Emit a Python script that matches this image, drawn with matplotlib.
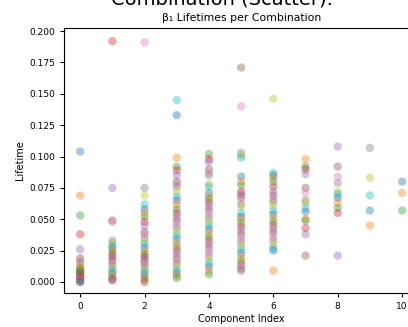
import numpy as np
import matplotlib
matplotlib.use("Agg")
import matplotlib.pyplot as plt

# lifetimes, one list per component index
comp_0 = [0.104, 0.069, 0.053, 0.038, 0.026, 0.019, 0.017, 0.015, 0.013, 0.011,
          0.010, 0.009, 0.008, 0.007, 0.006, 0.005, 0.004, 0.003, 0.002, 0.001,
          0.000, 0.012, 0.008, 0.004, 0.002, 0.000]
comp_1 = [0.192, 0.075, 0.049, 0.048, 0.033, 0.031, 0.029, 0.027, 0.025, 0.023,
          0.021, 0.019, 0.017, 0.015, 0.013, 0.011, 0.009, 0.007, 0.005, 0.003,
          0.002, 0.001]
comp_2 = [0.191, 0.075, 0.069, 0.062, 0.058, 0.055, 0.052, 0.048, 0.045, 0.040,
          0.038, 0.035, 0.032, 0.030, 0.027, 0.024, 0.022, 0.020, 0.018, 0.016,
          0.014, 0.012, 0.010, 0.008, 0.006, 0.004, 0.002, 0.000]
comp_3 = [0.145, 0.133, 0.099, 0.092, 0.089, 0.085, 0.080, 0.078, 0.076, 0.072,
          0.068, 0.065, 0.062, 0.058, 0.055, 0.052, 0.049, 0.046, 0.043, 0.040,
          0.037, 0.034, 0.031, 0.028, 0.025, 0.022, 0.019, 0.017, 0.014, 0.012,
          0.009, 0.007, 0.005, 0.003]
comp_4 = [0.102, 0.098, 0.096, 0.090, 0.087, 0.085, 0.078, 0.076, 0.071, 0.068,
          0.066, 0.063, 0.060, 0.057, 0.054, 0.051, 0.048, 0.045, 0.042, 0.039,
          0.036, 0.033, 0.030, 0.027, 0.024, 0.021, 0.018, 0.015, 0.012, 0.009,
          0.006]
comp_5 = [0.171, 0.140, 0.103, 0.101, 0.099, 0.084, 0.080, 0.077, 0.072, 0.070,
          0.068, 0.066, 0.062, 0.060, 0.055, 0.052, 0.050, 0.047, 0.044, 0.041,
          0.038, 0.035, 0.032, 0.029, 0.026, 0.023, 0.020, 0.017, 0.014, 0.011,
          0.009]
comp_6 = [0.146, 0.087, 0.085, 0.083, 0.080, 0.076, 0.072, 0.069, 0.066, 0.064,
          0.061, 0.057, 0.054, 0.051, 0.048, 0.045, 0.042, 0.039, 0.036, 0.033,
          0.030, 0.027, 0.025, 0.009]
comp_7 = [0.098, 0.092, 0.090, 0.086, 0.075, 0.071, 0.065, 0.063, 0.059, 0.056,
          0.050, 0.049, 0.043, 0.038, 0.021]
comp_8 = [0.108, 0.092, 0.084, 0.079, 0.072, 0.070, 0.067, 0.063, 0.059, 0.055,
          0.021]
comp_9 = [0.107, 0.083, 0.069, 0.057, 0.045]
comp_10 = [0.080, 0.071, 0.057]

columns = [comp_0, comp_1, comp_2, comp_3, comp_4, comp_5,
           comp_6, comp_7, comp_8, comp_9, comp_10]

palette = plt.get_cmap("tab10").colors

fig = plt.figure(figsize=(4.08, 3.27), dpi=100)
ax = fig.add_axes([0.157, 0.104, 0.868, 0.81])

for idx, vals in enumerate(columns):
    cols = [palette[(idx * 3 + k) % 10] for k in range(len(vals))]
    ax.scatter(np.full(len(vals), idx), vals, c=cols, s=36, alpha=0.4,
               edgecolors="none")

ax.set_xlim(-0.5, 10.5)
ax.set_ylim(-0.0088, 0.2024)
ax.set_xticks(range(0, 11, 2))
ax.set_yticks(np.arange(0, 0.201, 0.025))
ax.yaxis.set_major_formatter(matplotlib.ticker.FormatStrFormatter("%.3f"))
ax.tick_params(labelsize=6.5, length=3)
ax.set_xlabel("Component Index", fontsize=7, labelpad=2)
ax.set_ylabel("Lifetime", fontsize=7, labelpad=3)
ax.set_title("β₁ Lifetimes per Combination", fontsize=7.8, pad=5)

# the figure-level heading is cropped at the top edge in the reference
fig.text(0.545, 0.985, "Combination (Scatter).", ha="center",
         va="baseline", fontsize=14)

fig.savefig("out.png", dpi=100)
